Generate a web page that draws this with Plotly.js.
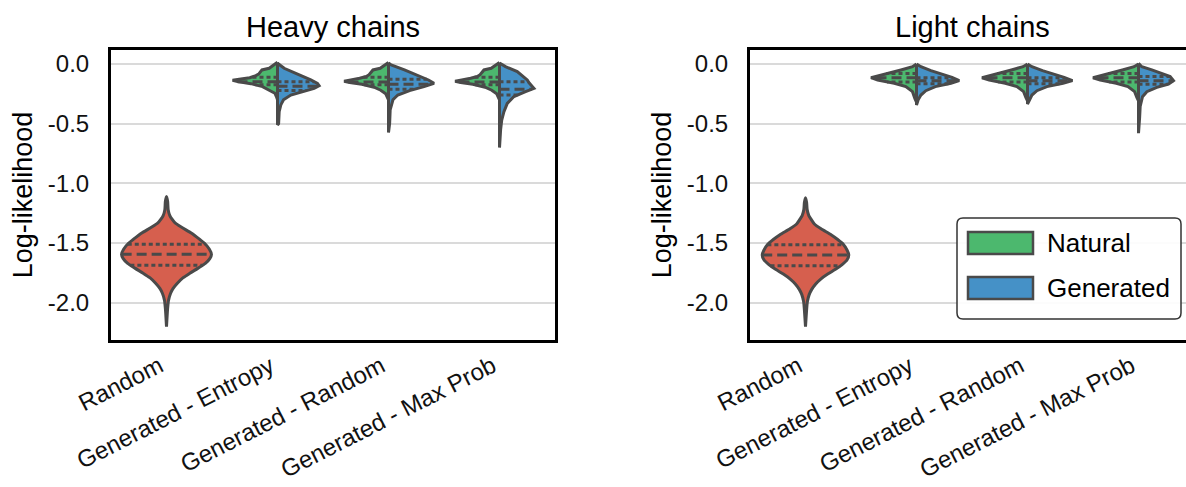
<!DOCTYPE html>
<html>
<head>
<meta charset="utf-8">
<script src="https://cdn.plot.ly/plotly-3.0.1.min.js"></script>
<style>
html,body{margin:0;padding:0;overflow:hidden;background:#fff;}
#chart{width:1200px;height:487px;}
</style>
</head>
<body>
<div id="chart"></div>
<script>
// ---------- data ----------
const categories = ['Random', 'Generated - Entropy', 'Generated - Random', 'Generated - Max Prob'];
const panelTitles = ['Heavy chains', 'Light chains'];
const seriesNames = ['Natural', 'Generated'];
const yTickVals = [0, -0.5, -1, -1.5, -2];
const yTickText = ['0.0', '-0.5', '-1.0', '-1.5', '-2.0'];

// Density profiles: log-likelihood levels (Y) and half-widths (W), quartiles (Q = [q1, median, q3])
// Heavy chains
const heavyRandomY = [-1.11, -1.15, -1.22, -1.27, -1.30, -1.334, -1.37, -1.42, -1.47, -1.50, -1.55, -1.595, -1.63, -1.67, -1.71, -1.753, -1.79, -1.837, -1.88, -1.92, -1.98, -2.05, -2.20];
const heavyRandomW = [0.0, 0.01, 0.015, 0.03, 0.05, 0.08, 0.14, 0.23, 0.30, 0.34, 0.385, 0.405, 0.39, 0.35, 0.285, 0.21, 0.15, 0.098, 0.06, 0.037, 0.018, 0.01, 0.0];
const heavyRandomQ = [-1.685, -1.593, -1.51];

const heavyEntropyNatY = [0.014, -0.01, -0.036, -0.05, -0.064, -0.085, -0.098, -0.115, -0.126, -0.137, -0.148, -0.165, -0.19, -0.218, -0.245, -0.273, -0.30];
const heavyEntropyNatW = [0.0, 0.04, 0.075, 0.14, 0.15, 0.17, 0.195, 0.25, 0.33, 0.405, 0.36, 0.24, 0.135, 0.075, 0.024, 0.01, 0.0];
const heavyEntropyNatQ = [-0.175, -0.148, -0.112];
const heavyEntropyGenY = [0.006, -0.036, -0.078, -0.106, -0.134, -0.162, -0.182, -0.204, -0.232, -0.26, -0.30, -0.343, -0.40, -0.50, -0.51];
const heavyEntropyGenW = [0.0, 0.06, 0.165, 0.24, 0.30, 0.36, 0.375, 0.33, 0.225, 0.12, 0.054, 0.03, 0.015, 0.01, 0.0];
const heavyEntropyGenQ = [-0.223, -0.186, -0.148];

const heavyRandGenNatY = [0.012, -0.01, -0.036, -0.05, -0.07, -0.09, -0.105, -0.12, -0.133, -0.145, -0.155, -0.17, -0.195, -0.22, -0.25, -0.28, -0.30];
const heavyRandGenNatW = [0.0, 0.04, 0.075, 0.14, 0.155, 0.175, 0.2, 0.26, 0.34, 0.40, 0.35, 0.24, 0.13, 0.07, 0.025, 0.01, 0.0];
const heavyRandGenNatQ = [-0.175, -0.15, -0.112];
const heavyRandGenGenY = [0.008, -0.008, -0.05, -0.092, -0.134, -0.162, -0.19, -0.223, -0.26, -0.30, -0.385, -0.50, -0.575];
const heavyRandGenGenW = [0.0, 0.024, 0.144, 0.26, 0.36, 0.41, 0.32, 0.19, 0.084, 0.04, 0.015, 0.01, 0.0];
const heavyRandGenGenQ = [-0.212, -0.17, -0.128];

const heavyMaxNatY = [0.012, -0.01, -0.036, -0.05, -0.07, -0.09, -0.105, -0.12, -0.133, -0.145, -0.155, -0.17, -0.195, -0.22, -0.25, -0.28, -0.30];
const heavyMaxNatW = [0.0, 0.04, 0.075, 0.14, 0.155, 0.175, 0.2, 0.26, 0.34, 0.40, 0.35, 0.24, 0.13, 0.07, 0.025, 0.01, 0.0];
const heavyMaxNatQ = [-0.175, -0.15, -0.112];
const heavyMaxGenY = [0.008, -0.022, -0.064, -0.106, -0.134, -0.162, -0.185, -0.204, -0.232, -0.273, -0.33, -0.40, -0.47, -0.55, -0.70];
const heavyMaxGenW = [0.0, 0.054, 0.16, 0.22, 0.25, 0.27, 0.29, 0.31, 0.235, 0.13, 0.07, 0.04, 0.02, 0.01, 0.0];
const heavyMaxGenQ = [-0.26, -0.212, -0.148];

// Light chains
const lightRandomY = [-1.12, -1.16, -1.22, -1.27, -1.30, -1.34, -1.38, -1.43, -1.47, -1.51, -1.56, -1.60, -1.64, -1.68, -1.72, -1.76, -1.80, -1.845, -1.89, -1.93, -1.99, -2.06, -2.20];
const lightRandomW = [0.0, 0.01, 0.015, 0.03, 0.05, 0.08, 0.14, 0.23, 0.29, 0.34, 0.375, 0.39, 0.375, 0.33, 0.27, 0.2, 0.14, 0.09, 0.055, 0.034, 0.017, 0.01, 0.0];
const lightRandomQ = [-1.69, -1.60, -1.515];

const lightEntropyNatY = [0.0, -0.023, -0.05, -0.078, -0.10, -0.115, -0.134, -0.162, -0.19, -0.232, -0.288, -0.32];
const lightEntropyNatW = [0.0, 0.036, 0.14, 0.26, 0.37, 0.41, 0.35, 0.2, 0.096, 0.036, 0.015, 0.0];
const lightEntropyNatQ = [-0.15, -0.115, -0.08];
const lightEntropyGenY = [0.0, -0.023, -0.056, -0.084, -0.112, -0.14, -0.162, -0.19, -0.224, -0.26, -0.30, -0.344];
const lightEntropyGenW = [0.0, 0.04, 0.13, 0.234, 0.32, 0.385, 0.31, 0.17, 0.084, 0.04, 0.015, 0.0];
const lightEntropyGenQ = [-0.165, -0.14, -0.115];

const lightRandGenNatY = [0.0, -0.023, -0.05, -0.078, -0.10, -0.115, -0.134, -0.162, -0.19, -0.232, -0.28, -0.31];
const lightRandGenNatW = [0.0, 0.04, 0.145, 0.265, 0.37, 0.41, 0.345, 0.2, 0.095, 0.035, 0.015, 0.0];
const lightRandGenNatQ = [-0.15, -0.115, -0.08];
const lightRandGenGenY = [0.0, -0.023, -0.056, -0.084, -0.112, -0.14, -0.162, -0.19, -0.224, -0.26, -0.30, -0.336];
const lightRandGenGenW = [0.0, 0.04, 0.135, 0.24, 0.33, 0.405, 0.32, 0.175, 0.085, 0.04, 0.015, 0.0];
const lightRandGenGenQ = [-0.165, -0.14, -0.115];

const lightMaxNatY = [0.0, -0.023, -0.05, -0.078, -0.10, -0.115, -0.134, -0.162, -0.19, -0.232, -0.28, -0.31];
const lightMaxNatW = [0.0, 0.04, 0.145, 0.265, 0.37, 0.41, 0.345, 0.2, 0.095, 0.035, 0.015, 0.0];
const lightMaxNatQ = [-0.15, -0.115, -0.08];
const lightMaxGenY = [0.005, -0.023, -0.05, -0.078, -0.106, -0.14, -0.168, -0.196, -0.232, -0.274, -0.355, -0.45, -0.58];
const lightMaxGenW = [0.0, 0.03, 0.12, 0.21, 0.285, 0.315, 0.27, 0.165, 0.075, 0.036, 0.015, 0.01, 0.0];
const lightMaxGenQ = [-0.17, -0.14, -0.105];

// ---------- styles ----------
const COL_RANDOM = '#d65f4e';
const COL_NAT = '#4cb86e';
const COL_GEN = '#4591c7';
const EDGE = '#4a4a4a';
const FONT = 'Liberation Sans, Arial, Helvetica, sans-serif';
const W = 1200, H = 487;

const traces = [];

function interpW(Y, Wd, q) {
  for (let i = 0; i < Y.length - 1; i++) {
    if ((Y[i] >= q && q >= Y[i + 1])) {
      const t = (Y[i] - q) / (Y[i] - Y[i + 1] || 1);
      return Wd[i] + t * (Wd[i + 1] - Wd[i]);
    }
  }
  return 0;
}

function quartileLines(cat, x0fn, Y, Wd, Q, xa, ya) {
  Q.forEach((q, k) => {
    const w = interpW(Y, Wd, q);
    const xs = x0fn(w);
    traces.push({
      type: 'scatter', mode: 'lines', x: xs, y: [q, q], xaxis: xa, yaxis: ya,
      line: {color: EDGE, width: 3, dash: k === 1 ? '10px,5px' : '4px,3px'},
      hoverinfo: 'skip', showlegend: false
    });
  });
}

function addFull(cat, Y, Wd, Q, color, xa, ya) {
  const xs = [], ys = [];
  for (let i = 0; i < Y.length; i++) { xs.push(cat + Wd[i]); ys.push(Y[i]); }
  for (let i = Y.length - 1; i >= 0; i--) { xs.push(cat - Wd[i]); ys.push(Y[i]); }
  traces.push({
    type: 'scatter', mode: 'lines', x: xs, y: ys, xaxis: xa, yaxis: ya,
    fill: 'toself', fillcolor: color, line: {color: EDGE, width: 3, shape: 'spline', smoothing: 0.6},
    hoverinfo: 'skip', showlegend: false
  });
  quartileLines(cat, w => [cat - w, cat + w], Y, Wd, Q, xa, ya);
}

function addHalf(cat, side, Y, Wd, Q, color, xa, ya) {
  const xs = [], ys = [];
  for (let i = 0; i < Y.length; i++) { xs.push(cat + side * Wd[i]); ys.push(Y[i]); }
  xs.push(cat); ys.push(Y[Y.length - 1]);
  xs.push(cat); ys.push(Y[0]);
  traces.push({
    type: 'scatter', mode: 'lines', x: xs, y: ys, xaxis: xa, yaxis: ya,
    fill: 'toself', fillcolor: color, line: {color: EDGE, width: 3},
    hoverinfo: 'skip', showlegend: false
  });
  quartileLines(cat, w => [cat, cat + side * w], Y, Wd, Q, xa, ya);
}

// Heavy panel
addFull(0, heavyRandomY, heavyRandomW, heavyRandomQ, COL_RANDOM, 'x', 'y');
addHalf(1, -1, heavyEntropyNatY, heavyEntropyNatW, heavyEntropyNatQ, COL_NAT, 'x', 'y');
addHalf(1, 1, heavyEntropyGenY, heavyEntropyGenW, heavyEntropyGenQ, COL_GEN, 'x', 'y');
addHalf(2, -1, heavyRandGenNatY, heavyRandGenNatW, heavyRandGenNatQ, COL_NAT, 'x', 'y');
addHalf(2, 1, heavyRandGenGenY, heavyRandGenGenW, heavyRandGenGenQ, COL_GEN, 'x', 'y');
addHalf(3, -1, heavyMaxNatY, heavyMaxNatW, heavyMaxNatQ, COL_NAT, 'x', 'y');
addHalf(3, 1, heavyMaxGenY, heavyMaxGenW, heavyMaxGenQ, COL_GEN, 'x', 'y');
// Light panel
addFull(0, lightRandomY, lightRandomW, lightRandomQ, COL_RANDOM, 'x2', 'y2');
addHalf(1, -1, lightEntropyNatY, lightEntropyNatW, lightEntropyNatQ, COL_NAT, 'x2', 'y2');
addHalf(1, 1, lightEntropyGenY, lightEntropyGenW, lightEntropyGenQ, COL_GEN, 'x2', 'y2');
addHalf(2, -1, lightRandGenNatY, lightRandGenNatW, lightRandGenNatQ, COL_NAT, 'x2', 'y2');
addHalf(2, 1, lightRandGenGenY, lightRandGenGenW, lightRandGenGenQ, COL_GEN, 'x2', 'y2');
addHalf(3, -1, lightMaxNatY, lightMaxNatW, lightMaxNatQ, COL_NAT, 'x2', 'y2');
addHalf(3, 1, lightMaxGenY, lightMaxGenW, lightMaxGenQ, COL_GEN, 'x2', 'y2');

// ---------- layout ----------
const px = x => x / W;
const py = y => 1 - y / H;
const leftDom = [px(111), px(555)];
const rightDom = [px(750), px(1194)];
const yDom = [py(340), py(50)];

function xAxis(dom, anchor) {
  return {
    domain: dom, anchor: anchor, range: [-0.5, 3.5],
    tickmode: 'array', tickvals: categories.map((c, i) => i), ticktext: categories,
    tickangle: -27, ticks: '', ticklabelstandoff: 0, ticklabelshift: -7,
    tickfont: {family: FONT, size: 24, color: '#111'},
    showgrid: false, zeroline: false,
    showline: true, mirror: true, linecolor: '#000', linewidth: 3
  };
}
function yAxis(anchor) {
  return {
    domain: yDom, anchor: anchor, range: [-2.312, 0.117],
    tickmode: 'array', tickvals: yTickVals, ticktext: yTickText,
    ticks: 'outside', ticklen: 14, tickcolor: 'rgba(0,0,0,0)',
    tickfont: {family: FONT, size: 24, color: '#111'},
    showgrid: true, gridcolor: '#dadada', gridwidth: 2, zeroline: false,
    showline: true, mirror: true, linecolor: '#000', linewidth: 3,
    title: {text: 'Log-likelihood', font: {family: FONT, size: 27, color: '#000'}, standoff: 8}
  };
}

const shapes = [];
const annotations = [];
panelTitles.forEach((t, i) => {
  const dom = i === 0 ? leftDom : rightDom;
  annotations.push({
    xref: 'paper', yref: 'paper', x: (dom[0] + dom[1]) / 2, y: py(27),
    xanchor: 'center', yanchor: 'middle', showarrow: false,
    text: t, font: {family: FONT, size: 29, color: '#000'}
  });
});

// Legend box (drawn manually so the patches match the reference size)
const lx0 = 957, lx1 = 1181, ly0 = 218, ly1 = 319, r = 6;
const X = px, Yp = py;
shapes.push({
  type: 'path', xref: 'paper', yref: 'paper',
  path: `M ${X(lx0 + r)},${Yp(ly0)} L ${X(lx1 - r)},${Yp(ly0)} Q ${X(lx1)},${Yp(ly0)} ${X(lx1)},${Yp(ly0 + r)} ` +
        `L ${X(lx1)},${Yp(ly1 - r)} Q ${X(lx1)},${Yp(ly1)} ${X(lx1 - r)},${Yp(ly1)} ` +
        `L ${X(lx0 + r)},${Yp(ly1)} Q ${X(lx0)},${Yp(ly1)} ${X(lx0)},${Yp(ly1 - r)} ` +
        `L ${X(lx0)},${Yp(ly0 + r)} Q ${X(lx0)},${Yp(ly0)} ${X(lx0 + r)},${Yp(ly0)} Z`,
  fillcolor: 'rgba(255,255,255,0.9)', line: {color: '#333', width: 1.5}
});
const legendColors = [COL_NAT, COL_GEN];
const legendRows = [[232, 254], [277, 299]];
seriesNames.forEach((name, i) => {
  const [a, b] = legendRows[i];
  shapes.push({
    type: 'rect', xref: 'paper', yref: 'paper',
    x0: X(968), x1: X(1033), y0: Yp(b), y1: Yp(a),
    fillcolor: legendColors[i], line: {color: EDGE, width: 2.5}
  });
  annotations.push({
    xref: 'paper', yref: 'paper', x: X(1045), y: Yp((a + b) / 2),
    xanchor: 'left', yanchor: 'middle', showarrow: false,
    text: name, font: {family: FONT, size: 26, color: '#000'}
  });
});

const layout = {
  width: W, height: H,
  margin: {l: 0, r: 0, t: 0, b: 0},
  paper_bgcolor: '#fff', plot_bgcolor: '#fff',
  showlegend: false,
  xaxis: xAxis(leftDom, 'y'),
  yaxis: yAxis('x'),
  xaxis2: xAxis(rightDom, 'y2'),
  yaxis2: yAxis('x2'),
  shapes: shapes,
  annotations: annotations
};

Plotly.newPlot('chart', traces, layout, {displayModeBar: false, staticPlot: true});
</script>
</body>
</html>
